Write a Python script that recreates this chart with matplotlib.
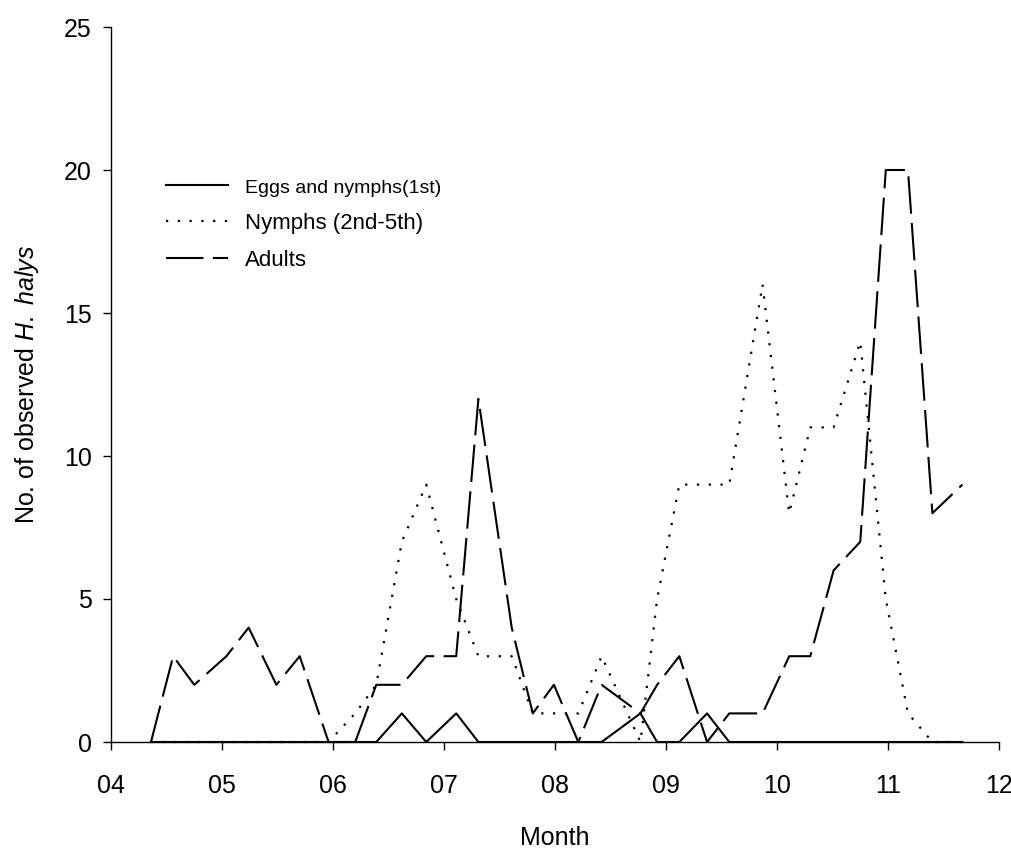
import matplotlib
matplotlib.use("Agg")
import matplotlib.pyplot as plt

plt.rcParams['font.family'] = ['Liberation Sans', 'DejaVu Sans']
plt.rcParams['mathtext.fontset'] = 'custom'
plt.rcParams['mathtext.rm'] = 'Liberation Sans'
plt.rcParams['mathtext.it'] = 'Liberation Sans:italic'

# sampling dates (fractional month)
months = [4.36, 4.56, 4.75, 5.04, 5.24, 5.49, 5.70, 5.96, 6.20, 6.39,
          6.62, 6.84, 7.11, 7.31, 7.61, 7.80, 7.99, 8.21, 8.42, 8.77,
          8.92, 9.12, 9.37, 9.57, 9.87, 10.11, 10.30, 10.51, 10.75, 10.98,
          11.18, 11.40, 11.67]

eggs = [0, 0, 0, 0, 0, 0, 0, 0, 0, 0,
        1, 0, 1, 0, 0, 0, 0, 0, 0, 1,
        0, 0, 1, 0, 0, 0, 0, 0, 0, 0,
        0, 0, 0]

nymphs = [0, 0, 0, 0, 0, 0, 0, 0, 1, 2,
          7, 9, 5, 3, 3, 1, 1, 1, 3, 0,
          5, 9, 9, 9, 16, 8, 11, 11, 14, 5,
          1, 0, 0]

adults = [0, 3, 2, 3, 4, 2, 3, 0, 0, 2,
          2, 3, 3, 12, 4, 1, 2, 0, 2, 1,
          2, 3, 0, 1, 1, 3, 3, 6, 7, 20,
          20, 8, 9]

xticks = [4, 5, 6, 7, 8, 9, 10, 11, 12]
xticklabels = ['04', '05', '06', '07', '08', '09', '10', '11', '12']
yticks = [0, 5, 10, 15, 20, 25]

labels = ['Eggs and nymphs(1st)', 'Nymphs (2nd-5th)', 'Adults']

fig = plt.figure(figsize=(10.11, 8.52), dpi=100)
ax = fig.add_axes([111/1011, 110/852, 888/1011, 715/852])

l1, = ax.plot(months, eggs, color='black', lw=1.5, linestyle='-', label=labels[0], clip_on=False)
l2, = ax.plot(months, nymphs, color='black', lw=1.6, linestyle=(0, (1, 4.3)), label=labels[1], clip_on=False)
l3, = ax.plot(months, adults, color='black', lw=1.5, linestyle=(0, (18, 4.5)), label=labels[2], clip_on=False)

ax.set_xlim(4, 12)
ax.set_ylim(0, 25)
ax.set_xticks(xticks)
ax.set_xticklabels(xticklabels)
ax.set_yticks(yticks)

for s in ['top', 'right']:
    ax.spines[s].set_visible(False)
for s in ['left', 'bottom']:
    ax.spines[s].set_linewidth(1.0)

ax.tick_params(axis='both', direction='out', length=6, width=1.0, labelsize=18, colors='black')
ax.tick_params(axis='x', pad=17)
ax.tick_params(axis='y', pad=8)

ax.set_xlabel('Month', fontsize=18, labelpad=20)
ax.set_ylabel('No. of observed $\\mathit{H.\\ halys}$', fontsize=18, labelpad=16)

leg = ax.legend(handles=[l1, l2, l3], loc='upper left', bbox_to_anchor=(146/1011, 1 - 157/852),
                bbox_transform=fig.transFigure, frameon=False, fontsize=16,
                handlelength=2.8, handletextpad=0.75, labelspacing=0.72)
leg.get_texts()[0].set_fontsize(14)

fig.savefig('out.png', dpi=100)
